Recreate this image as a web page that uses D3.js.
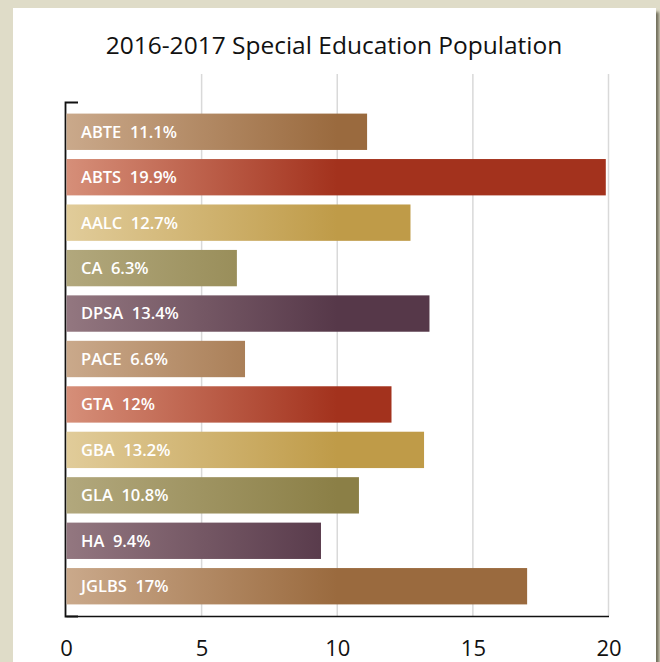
<!DOCTYPE html>
<html>
<head>
<meta charset="utf-8">
<script src="https://cdn.jsdelivr.net/npm/d3@7"></script>
<style>
  html, body { margin: 0; padding: 0; background: #dfdcc8; }
  svg { display: block; }
  text { font-family: "Open Sans", "Noto Sans", sans-serif; }
</style>
</head>
<body>
<svg id="chart" width="660" height="662"></svg>
<script>
// Share of students in special education, by school, 2016-2017
const schools  = ["ABTE", "ABTS", "AALC", "CA", "DPSA", "PACE", "GTA", "GBA", "GLA", "HA", "JGLBS"];
const percents = [11.1, 19.9, 12.7, 6.3, 13.4, 6.6, 12, 13.2, 10.8, 9.4, 17];
const xTicks   = [0, 5, 10, 15, 20];
const title    = "2016-2017 Special Education Population";

// light -> dark colour pairs, cycled through the bars
const palette = [
  ["#caa98b", "#9a6a3e"],
  ["#d68f79", "#a3321d"],
  ["#e1cc9a", "#bf9b48"],
  ["#b2a87d", "#8b7f46"],
  ["#937780", "#563849"]
];

const data = schools.map((s, i) => ({ school: s, value: percents[i], tone: i % palette.length }));

const svg = d3.select("#chart");
const defs = svg.append("defs");

// white card with a soft shadow to the lower right
const shadow = defs.append("filter").attr("id", "cardShadow")
  .attr("x", "-5%").attr("y", "-5%").attr("width", "115%").attr("height", "115%");
shadow.append("feDropShadow")
  .attr("dx", 3).attr("dy", 4).attr("stdDeviation", 1.6)
  .attr("flood-color", "#5f5d4c").attr("flood-opacity", 0.85);

svg.append("rect")
  .attr("x", 13).attr("y", 8).attr("width", 643).attr("height", 680)
  .attr("fill", "#ffffff").attr("filter", "url(#cardShadow)");

const x = d3.scaleLinear().domain([0, 20]).range([66, 608.5]);
const y = d3.scaleBand().domain(schools).range([102, 616])
  .paddingInner(0.2).paddingOuter(0.255);

// gradients run in user space from 0 to 10 on the value axis
palette.forEach((pair, i) => {
  const g = defs.append("linearGradient").attr("id", "tone" + i)
    .attr("gradientUnits", "userSpaceOnUse")
    .attr("x1", x(0)).attr("x2", x(10)).attr("y1", 0).attr("y2", 0);
  g.append("stop").attr("offset", 0).attr("stop-color", pair[0]);
  g.append("stop").attr("offset", 1).attr("stop-color", pair[1]);
});

// title
svg.append("text")
  .attr("x", 334).attr("y", 54)
  .attr("text-anchor", "middle")
  .attr("font-size", 24.5)
  .attr("fill", "#111")
  .text(title);

// vertical gridlines
svg.append("g").selectAll("line")
  .data(xTicks.filter(t => t > 0))
  .join("line")
  .attr("x1", d => x(d)).attr("x2", d => x(d))
  .attr("y1", 74).attr("y2", 616)
  .attr("stroke", "#d9d9d9").attr("stroke-width", 1.5);

// bottom axis
const xAxis = svg.append("g")
  .attr("transform", "translate(0,616)")
  .call(d3.axisBottom(x).tickValues(xTicks).tickSize(0).tickPadding(24).tickFormat(d3.format("d")));
xAxis.select(".domain").attr("stroke", "#111").attr("stroke-width", 1.6);
xAxis.selectAll("text")
  .attr("font-size", 22).attr("fill", "#111")
  .attr("font-family", "\"Open Sans\", sans-serif");

// left axis: plain spine with a short inward cap at the top
const yAxis = svg.append("g")
  .attr("transform", "translate(65,0)")
  .call(d3.axisLeft(y).tickSize(0).tickSizeOuter(-13).tickFormat(""));
yAxis.select(".domain").attr("stroke", "#111").attr("stroke-width", 1.8).attr("fill", "none");

// bars
svg.append("g").selectAll("rect")
  .data(data)
  .join("rect")
  .attr("x", x(0) + 0.5)
  .attr("y", d => y(d.school))
  .attr("width", d => x(d.value) - x(0) - 0.5)
  .attr("height", y.bandwidth())
  .attr("fill", d => "url(#tone" + d.tone + ")");

// in-bar labels: school name, a wide gap, then the percentage
svg.append("g").selectAll("text")
  .data(data)
  .join("text")
  .attr("x", x(0) + 15)
  .attr("y", d => y(d.school) + y.bandwidth() / 2)
  .attr("dy", "0.36em")
  .attr("font-size", 16.5)
  .attr("font-weight", 600)
  .attr("fill", "#ffffff")
  .text(d => d.school + "\u00a0\u00a0" + d.value + "%");
</script>
</body>
</html>
